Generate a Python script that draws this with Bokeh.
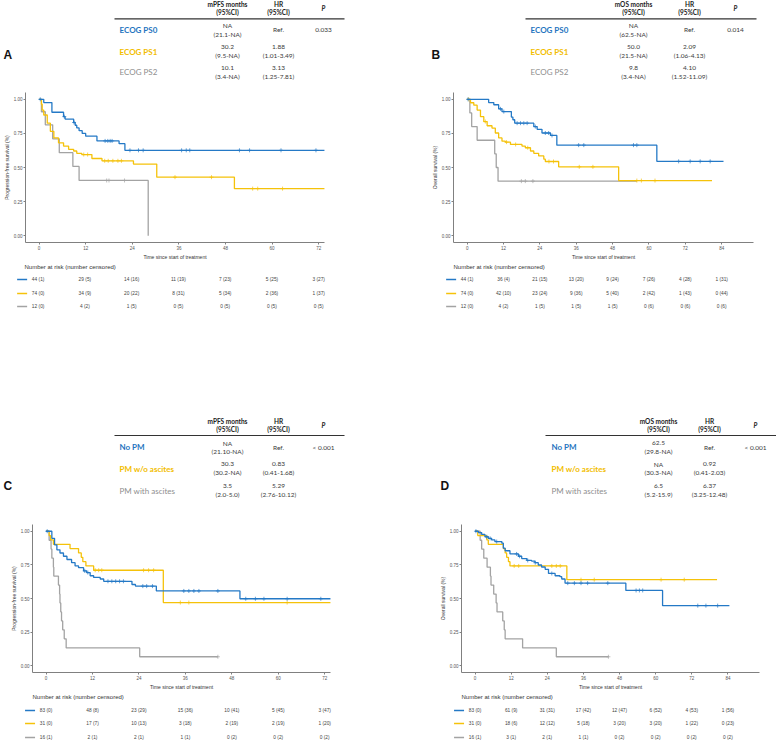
import bisect
from bokeh.plotting import figure
from bokeh.models import Range1d, FixedTicker, NumeralTickFormatter
from bokeh.layouts import column, row
from bokeh.core.properties import value
from bokeh.embed import file_html
from bokeh.resources import INLINE

# ---------------- data ----------------
X_TICKS_72 = [0, 12, 24, 36, 48, 60, 72]
X_TICKS_84 = [0, 12, 24, 36, 48, 60, 72, 84]
Y_TICKS = [0.0, 0.25, 0.5, 0.75, 1.0]

# Panel A: PFS by ECOG
A_groups = ["ECOG PS0", "ECOG PS1", "ECOG PS2"]
A_median = ["NA", "30.2", "10.1"]
A_median_ci = ["(21.1-NA)", "(9.5-NA)", "(3.4-NA)"]
A_hr = ["Ref.", "1.88", "3.13"]
A_hr_ci = ["", "(1.01-3.49)", "(1.25-7.81)"]
A_p = "0.033"
A_blue_t = [0, 1.2, 3.3, 6.3, 6.7, 8.9, 9.3, 9.7, 10.3, 11.1, 12.0, 14.9, 20.6, 22.1, 73.6]
A_blue_s = [1.0, 0.976, 0.905, 0.873, 0.855, 0.83, 0.81, 0.79, 0.77, 0.75, 0.73, 0.695, 0.675, 0.626, 0.626]
A_blue_c = [0.3, 6.5, 9.0, 17.0, 17.7, 18.3, 18.8, 23.4, 25.6, 26.8, 36.7, 37.9, 38.8, 51.6, 54.2, 62.3, 71.3]
A_yel_t = [0, 0.6, 0.8, 1.2, 2.1, 2.9, 3.8, 5.0, 6.3, 7.6, 8.9, 9.7, 11.0, 13.6, 16.2, 24.3, 30.3, 50.3, 73.6]
A_yel_s = [1.0, 0.964, 0.921, 0.885, 0.825, 0.765, 0.717, 0.681, 0.657, 0.633, 0.621, 0.604, 0.595, 0.566, 0.549, 0.525, 0.429, 0.345, 0.345]
A_yel_c = [11.5, 12.5, 16.9, 17.8, 19.0, 20.3, 21.2, 35.0, 44.4, 55.0, 56.3, 62.7]
A_gray_t = [0, 0.6, 1.6, 3.5, 5.2, 8.7, 10.3, 28.1]
A_gray_s = [1.0, 0.909, 0.813, 0.71, 0.609, 0.508, 0.405, 0.0]
A_gray_c = [17.4, 18.0, 22.0]
A_risk_blue = ["44 (1)", "29 (5)", "14 (16)", "11 (19)", "7 (23)", "5 (25)", "3 (27)"]
A_risk_yel = ["74 (0)", "34 (9)", "20 (22)", "8 (31)", "5 (34)", "2 (36)", "1 (37)"]
A_risk_gray = ["12 (0)", "4 (2)", "1 (5)", "0 (5)", "0 (5)", "0 (5)", "0 (5)"]

# Panel B: OS by ECOG
B_groups = ["ECOG PS0", "ECOG PS1", "ECOG PS2"]
B_median = ["NA", "50.0", "9.8"]
B_median_ci = ["(62.5-NA)", "(21.5-NA)", "(3.4-NA)"]
B_hr = ["Ref.", "2.09", "4.10"]
B_hr_ci = ["", "(1.06-4.13)", "(1.52-11.09)"]
B_p = "0.014"
B_blue_t = [0, 7.1, 8.8, 10.4, 11.5, 14.6, 15.1, 15.7, 22.0, 23.1, 24.7, 27.5, 29.6, 62.6, 84.6]
B_blue_s = [1.0, 0.976, 0.96, 0.93, 0.91, 0.87, 0.85, 0.825, 0.80, 0.78, 0.753, 0.735, 0.664, 0.545, 0.545]
B_blue_c = [0.3, 11.0, 12.1, 16.5, 17.6, 18.7, 19.8, 22.5, 25.8, 26.9, 28.0, 36.8, 38.5, 54.9, 56.0, 69.8, 73.6, 76.9, 80.2]
B_yel_t = [0, 1.1, 2.2, 3.3, 4.4, 5.5, 6.6, 8.2, 9.3, 10.4, 11.5, 12.6, 14.3, 18.1, 19.2, 20.9, 22.0, 23.6, 25.3, 25.8, 30.2, 50.0, 80.8]
B_yel_s = [1.0, 0.975, 0.957, 0.921, 0.873, 0.837, 0.806, 0.789, 0.753, 0.717, 0.693, 0.686, 0.669, 0.657, 0.645, 0.621, 0.604, 0.585, 0.561, 0.544, 0.505, 0.404, 0.404]
B_yel_c = [0.5, 6.0, 13.0, 16.0, 20.0, 27.0, 28.5, 37.0, 41.5, 56.0, 57.5, 62.0]
B_gray_t = [0, 0.9, 1.5, 3.3, 9.1, 9.6, 10.2, 56.0]
B_gray_s = [1.0, 0.90, 0.80, 0.70, 0.60, 0.50, 0.40, 0.40]
B_gray_c = [17.9, 19.2, 21.7]
B_risk_blue = ["44 (1)", "36 (4)", "21 (15)", "13 (20)", "9 (24)", "7 (26)", "4 (28)", "1 (31)"]
B_risk_yel = ["74 (0)", "42 (10)", "23 (24)", "9 (36)", "5 (40)", "2 (42)", "1 (43)", "0 (44)"]
B_risk_gray = ["12 (0)", "4 (2)", "1 (5)", "1 (5)", "1 (5)", "0 (6)", "0 (6)", "0 (6)"]

# Panel C: PFS by peritoneal metastasis
C_groups = ["No PM", "PM w/o ascites", "PM with ascites"]
C_median = ["NA", "30.3", "3.5"]
C_median_ci = ["(21.10-NA)", "(30.2-NA)", "(2.0-5.0)"]
C_hr = ["Ref.", "0.83", "5.29"]
C_hr_ci = ["", "(0.41-1.68)", "(2.76-10.12)"]
C_p = "< 0.001"
C_blue_t = [0, 1.5, 2.2, 2.8, 3.6, 4.5, 5.4, 6.6, 7.5, 8.4, 9.7, 10.5, 11.4, 12.3, 14.0, 14.9, 22.2, 23.1, 28.5, 50.1, 73.6]
C_blue_s = [1.0, 0.947, 0.899, 0.862, 0.838, 0.814, 0.79, 0.766, 0.742, 0.729, 0.705, 0.693, 0.669, 0.657, 0.645, 0.628, 0.604, 0.592, 0.556, 0.498, 0.498]
C_blue_c = [0.3, 10.0, 10.8, 16.0, 17.0, 18.0, 19.0, 20.0, 25.0, 26.0, 27.5, 35.6, 36.9, 38.2, 39.5, 44.4, 51.6, 54.1, 56.3, 62.3, 71.0]
C_yel_t = [0, 0.8, 1.2, 1.9, 6.2, 8.4, 9.1, 9.5, 10.3, 12.3, 30.3, 73.6]
C_yel_s = [1.0, 0.968, 0.935, 0.903, 0.871, 0.839, 0.806, 0.774, 0.742, 0.71, 0.47, 0.47]
C_yel_c = [12.7, 13.6, 14.4, 25.2, 26.5, 27.8, 34.7, 36.9, 62.3]
C_gray_t = [0, 0.8, 1.3, 1.5, 1.9, 2.0, 3.2, 3.5, 3.6, 3.8, 4.0, 4.3, 4.7, 5.2, 24.2, 44.4]
C_gray_s = [1.0, 0.933, 0.867, 0.80, 0.733, 0.667, 0.60, 0.533, 0.467, 0.40, 0.333, 0.267, 0.20, 0.133, 0.067, 0.067]
C_gray_c = [44.4]
C_risk_blue = ["83 (0)", "48 (8)", "23 (29)", "15 (36)", "10 (41)", "5 (45)", "3 (47)"]
C_risk_yel = ["31 (0)", "17 (7)", "10 (13)", "3 (18)", "2 (19)", "2 (19)", "1 (20)"]
C_risk_gray = ["16 (1)", "2 (1)", "2 (1)", "1 (1)", "0 (2)", "0 (2)", "0 (2)"]

# Panel D: OS by peritoneal metastasis
D_groups = ["No PM", "PM w/o ascites", "PM with ascites"]
D_median = ["62.5", "NA", "6.5"]
D_median_ci = ["(29.8-NA)", "(30.3-NA)", "(5.2-15.9)"]
D_hr = ["Ref.", "0.92", "6.37"]
D_hr_ci = ["", "(0.41-2.03)", "(3.25-12.48)"]
D_p = "< 0.001"
D_blue_t = [0, 1.1, 2.2, 3.3, 4.4, 5.5, 6.6, 8.9, 9.4, 10.0, 11.6, 14.4, 15.5, 17.2, 18.8, 19.9, 21.0, 22.1, 23.3, 24.4, 26.6, 28.2, 28.8, 29.9, 50.1, 62.3, 84.5]
D_blue_s = [1.0, 0.99, 0.976, 0.959, 0.947, 0.935, 0.923, 0.911, 0.874, 0.855, 0.831, 0.814, 0.797, 0.783, 0.778, 0.766, 0.749, 0.734, 0.717, 0.686, 0.669, 0.662, 0.645, 0.614, 0.56, 0.447, 0.447]
D_blue_c = [0.3, 3.9, 5.0, 7.2, 13.8, 14.8, 17.5, 20.0, 25.5, 30.8, 33.0, 35.2, 37.4, 44.1, 53.5, 54.6, 55.7, 74.0, 76.7, 80.6]
D_yel_t = [0, 0.9, 3.9, 4.4, 9.4, 10.0, 10.5, 11.1, 11.6, 30.5, 80.4]
D_yel_s = [1.0, 0.968, 0.935, 0.903, 0.871, 0.839, 0.806, 0.774, 0.742, 0.64, 0.64]
D_yel_c = [13.0, 14.5, 25.5, 27.0, 28.3, 35.2, 39.6, 61.8, 69.5]
D_gray_t = [0, 1.7, 2.2, 2.9, 4.0, 5.1, 5.3, 6.2, 7.0, 7.3, 9.2, 9.7, 10.0, 15.8, 27.0, 44.3]
D_gray_s = [1.0, 0.933, 0.867, 0.80, 0.733, 0.667, 0.60, 0.533, 0.467, 0.40, 0.333, 0.267, 0.20, 0.133, 0.067, 0.067]
D_gray_c = [44.3]
D_risk_blue = ["83 (0)", "61 (9)", "31 (31)", "17 (42)", "12 (47)", "6 (52)", "4 (53)", "1 (56)"]
D_risk_yel = ["31 (0)", "18 (6)", "12 (12)", "5 (18)", "3 (20)", "3 (20)", "1 (22)", "0 (23)"]
D_risk_gray = ["16 (1)", "3 (1)", "2 (1)", "1 (1)", "0 (2)", "0 (2)", "0 (2)", "0 (2)"]

# ---------------- style ----------------
BLUE, YELLOW, GRAY = "#2479C6", "#F5C20A", "#A3A3A3"
TBLUE, TYELLOW, TGRAY = "#1F74C0", "#F2BD00", "#8E8E8E"
TXT = "#3a3a3a"
PLOT_FONT = "Liberation Sans"
TAB_FONT = "Lato"
W = 388


def bare(h, xr, yr, left, right):
    p = figure(width=W, height=h, x_range=xr, y_range=yr, output_backend="svg",
               toolbar_location=None, x_axis_location=None, y_axis_location=None,
               min_border_left=left, min_border_right=right,
               min_border_top=0, min_border_bottom=0)
    p.frame_align = False
    p.outline_line_color = None
    p.grid.visible = False
    return p


def txt(p, x, y, s, size, color=TXT, align="left", style="normal", font=TAB_FONT):
    p.text(x=x, y=y, text=s, text_font=value(font), text_font_size=value(size),
           text_color=color, text_align=align, text_baseline="middle",
           text_font_style=value(style), level="annotation")


def table_fig(h, left, right, letter, letter_x, letter_y, cols, rule_x, label_x, yh, yrule, ylab,
              groups, med, med_ci, hr, hr_ci, pval, head):
    # x data coordinates equal pixels across the panel width
    p = bare(h, Range1d(left, W - right), Range1d(h, 0), left, right)
    txt(p, [letter_x], [letter_y], [letter], "12px", color="#111111", style="bold", font=PLOT_FONT)
    txt(p, [cols[0]], [yh[0]], [head + " months"], "6.5px", "#222222", "center", "bold")
    txt(p, [cols[0]], [yh[1]], ["(95%CI)"], "6.5px", "#222222", "center", "bold")
    txt(p, [cols[1]], [yh[0]], ["HR"], "6.5px", "#222222", "center", "bold")
    txt(p, [cols[1]], [yh[1]], ["(95%CI)"], "6.5px", "#222222", "center", "bold")
    txt(p, [cols[2]], [(yh[0] + yh[1]) / 2], ["P"], "6.5px", "#222222", "center", "bold italic")
    p.segment(x0=[rule_x[0]], y0=[yrule], x1=[rule_x[1]], y1=[yrule], line_color="#333333",
              line_width=1.2, level="annotation")
    colors = [TBLUE, TYELLOW, TGRAY]
    styles = ["bold", "bold", "normal"]
    for i in range(3):
        yl = ylab[i]
        txt(p, [label_x], [yl], [groups[i]], "8px", colors[i], "left", styles[i])
        txt(p, [cols[0]], [yl - 4.2], [med[i]], "6.5px", TXT, "center")
        txt(p, [cols[0]], [yl + 4.2], [med_ci[i]], "6.5px", TXT, "center")
        if hr_ci[i]:
            txt(p, [cols[1]], [yl - 4.2], [hr[i]], "6.5px", TXT, "center")
            txt(p, [cols[1]], [yl + 4.2], [hr_ci[i]], "6.5px", TXT, "center")
        else:
            txt(p, [cols[1]], [yl], [hr[i]], "6.5px", TXT, "center")
    txt(p, [cols[2]], [ylab[0]], [pval], "6.5px", TXT, "center")
    return p


def km_fig(h, left, right, top, bottom, xlim, xticks, ylabel, curves):
    p = figure(width=W, height=h, x_range=Range1d(*xlim), y_range=Range1d(-0.05, 1.05),
               output_backend="svg", toolbar_location=None,
               min_border_left=left, min_border_right=right,
               min_border_top=top, min_border_bottom=bottom)
    p.frame_align = False
    p.outline_line_color = None
    p.grid.visible = False
    p.xaxis.ticker = FixedTicker(ticks=xticks)
    p.yaxis.ticker = FixedTicker(ticks=Y_TICKS)
    p.yaxis.formatter = NumeralTickFormatter(format="0.00")
    for ax in p.axis:
        ax.axis_line_color = "#808080"
        ax.major_tick_line_color = "#808080"
        ax.minor_tick_line_color = None
        ax.major_tick_out = 2
        ax.major_tick_in = 0
        ax.major_label_text_font = PLOT_FONT
        ax.major_label_text_font_size = "4.5px"
        ax.major_label_text_color = "#555555"
        ax.major_label_standoff = 1
        ax.axis_label_text_font = PLOT_FONT
        ax.axis_label_text_font_size = "5px"
        ax.axis_label_text_font_style = "normal"
        ax.axis_label_text_color = "#333333"
        ax.axis_label_standoff = 1
    p.xaxis.axis_label = "Time since start of treatment"
    p.yaxis.axis_label = ylabel
    for t, s, cens, color in curves:
        p.step(t, s, mode="after", line_color=color, line_width=1.3)
        cy = [s[bisect.bisect_right(t, c) - 1] for c in cens]
        p.scatter(cens, cy, marker="cross", size=4, line_color=color, line_width=0.7)
    return p


def risk_fig(h, km, left, right, xticks, ytitle, yrows, rows):
    xr = km.x_range
    ppm = (W - left - right) / (xr.end - xr.start)
    p = bare(h, xr, Range1d(h, 0), left, right)
    txt(p, [xr.start], [ytitle], ["Number at risk (number censored)"], "6px", "#333333",
        "left", font=PLOT_FONT)
    for yy, labels, color in zip(yrows, rows, [BLUE, YELLOW, GRAY]):
        txt(p, xticks, [yy] * len(xticks), labels, "4.8px", "#444444", "center", font=PLOT_FONT)
        p.segment(x0=[-21 / ppm], y0=[yy], x1=[-11 / ppm], y1=[yy], line_color=color,
                  line_width=1.5, level="annotation")
    return p


# ---------------- panels ----------------
XL72 = (-3.5, 73.5)
XL84 = (-4.5, 94.5)
PFS = "Progression-free survival (%)"
OS = "Overall survival (%)"

tA = table_fig(88, 24, 64, "A", 3, 54, [227, 278, 323], [114, 344], 119, [4, 11.7], 18.3,
               [29.3, 51, 71.7], A_groups, A_median, A_median_ci, A_hr, A_hr_ci, A_p, "mPFS")
kA = km_fig(174, 24, 64, 4, 16, XL72, X_TICKS_72, PFS,
            [(A_gray_t, A_gray_s, A_gray_c, GRAY), (A_yel_t, A_yel_s, A_yel_c, YELLOW),
             (A_blue_t, A_blue_s, A_blue_c, BLUE)])
rA = risk_fig(138, kA, 24, 64, X_TICKS_72, 4, [17, 31, 44], [A_risk_blue, A_risk_yel, A_risk_gray])

tB = table_fig(88, 65, 23, "B", 43, 54, [245, 301, 347], [137, 368], 142, [4, 11.7], 18.3,
               [29.3, 51, 71.7], B_groups, B_median, B_median_ci, B_hr, B_hr_ci, B_p, "mOS")
kB = km_fig(174, 65, 23, 4, 16, XL84, X_TICKS_84, OS,
            [(B_gray_t, B_gray_s, B_gray_c, GRAY), (B_yel_t, B_yel_s, B_yel_c, YELLOW),
             (B_blue_t, B_blue_s, B_blue_c, BLUE)])
rB = risk_fig(138, kB, 65, 23, X_TICKS_84, 4, [17, 31, 44], [B_risk_blue, B_risk_yel, B_risk_gray])

tC = table_fig(112, 32, 58, "C", 3, 85, [227, 278, 323], [114, 344], 119, [20.7, 29], 35,
               [46.7, 68, 90], C_groups, C_median, C_median_ci, C_hr, C_hr_ci, C_p, "mPFS")
kC = km_fig(180, 32, 58, 12, 16, XL72, X_TICKS_72, PFS,
            [(C_gray_t, C_gray_s, C_gray_c, GRAY), (C_yel_t, C_yel_s, C_yel_c, YELLOW),
             (C_blue_t, C_blue_s, C_blue_c, BLUE)])
rC = risk_fig(48, kC, 32, 58, X_TICKS_72, 4, [18, 31, 45], [C_risk_blue, C_risk_yel, C_risk_gray])

tD = table_fig(112, 73, 17, "D", 52, 85, [270, 321, 367], [157, 388], 163, [20.7, 29], 35,
               [46.7, 68, 90], D_groups, D_median, D_median_ci, D_hr, D_hr_ci, D_p, "mOS")
kD = km_fig(180, 73, 17, 12, 16, XL84, X_TICKS_84, OS,
            [(D_gray_t, D_gray_s, D_gray_c, GRAY), (D_yel_t, D_yel_s, D_yel_c, YELLOW),
             (D_blue_t, D_blue_s, D_blue_c, BLUE)])
rD = risk_fig(48, kD, 73, 17, X_TICKS_84, 4, [18, 31, 45], [D_risk_blue, D_risk_yel, D_risk_gray])

layout = row(column(tA, kA, rA, tC, kC, rC, spacing=0),
             column(tB, kB, rB, tD, kD, rD, spacing=0), spacing=0)

open("out.html", "w").write(file_html(layout, INLINE))
